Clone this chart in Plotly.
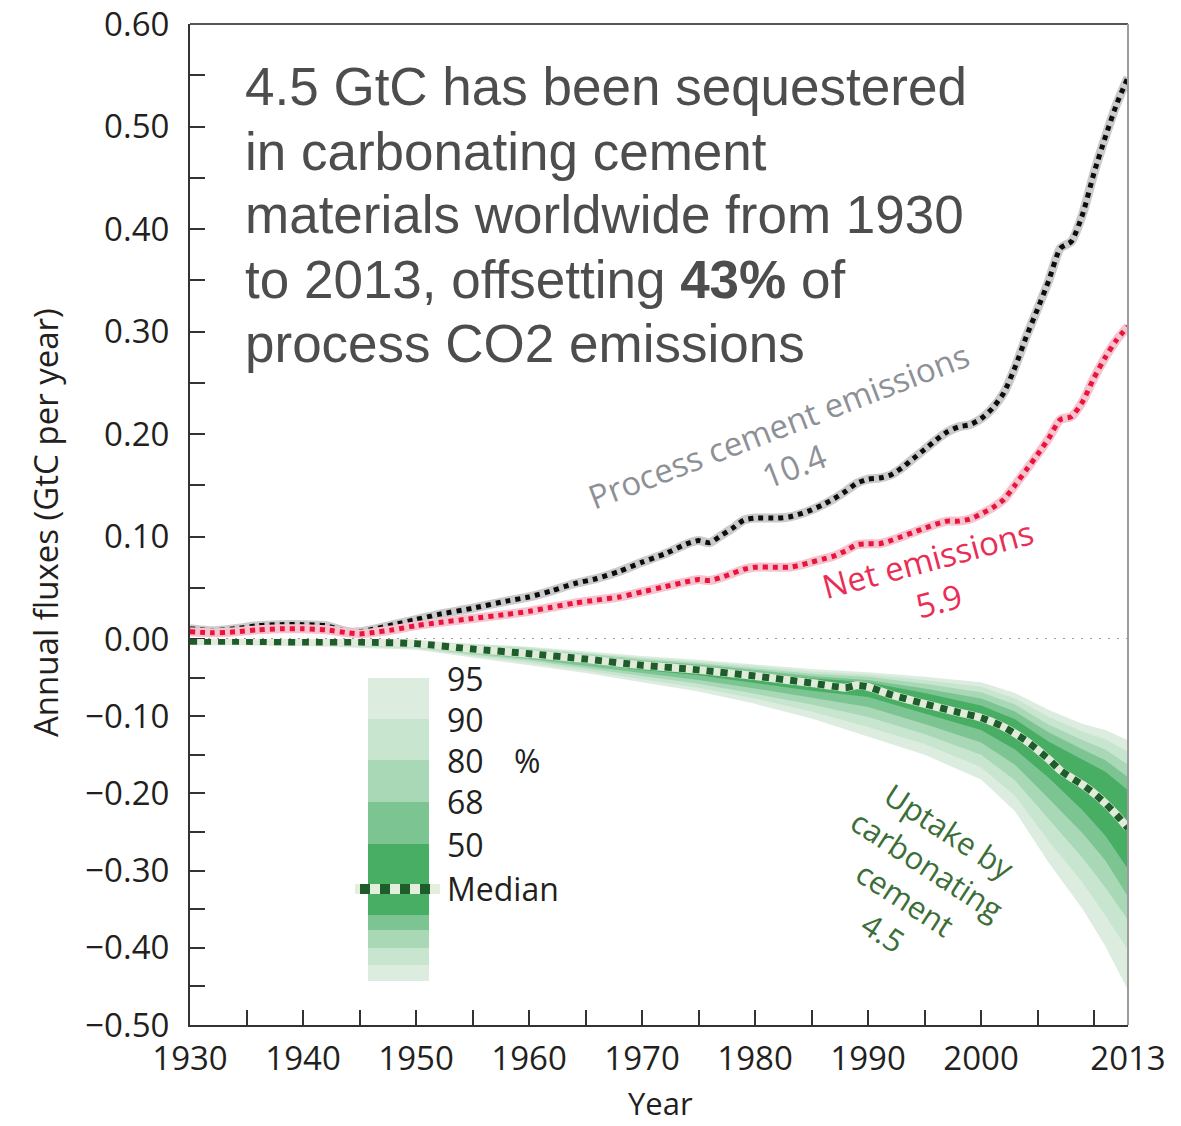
import plotly.graph_objects as go

# ---------------- data (GtC per year) ----------------
proc_years = [1930, 1932, 1934, 1936, 1938, 1940, 1942, 1944, 1945, 1946, 1948, 1950, 1952, 1955,
              1958, 1960, 1962, 1964, 1966, 1968, 1970, 1972, 1974, 1975, 1976, 1977, 1978, 1979,
              1980, 1982, 1983, 1984, 1985, 1986, 1987, 1988, 1989, 1990, 1991, 1992, 1993, 1994,
              1995, 1996, 1997, 1998, 1999, 2000, 2001, 2002, 2003, 2004, 2005, 2006, 2007, 2008,
              2009, 2010, 2011, 2012, 2013]
process_emissions = [0.010, 0.008, 0.010, 0.013, 0.014, 0.014, 0.013, 0.007, 0.007, 0.009, 0.014,
                     0.019, 0.024, 0.030, 0.037, 0.041, 0.047, 0.054, 0.059, 0.066, 0.075, 0.083,
                     0.093, 0.096, 0.094, 0.101, 0.108, 0.116, 0.118, 0.118, 0.119, 0.122, 0.126,
                     0.131, 0.137, 0.144, 0.152, 0.156, 0.157, 0.160, 0.167, 0.176, 0.185, 0.194,
                     0.202, 0.207, 0.209, 0.215, 0.225, 0.240, 0.265, 0.295, 0.322, 0.350, 0.381,
                     0.388, 0.415, 0.455, 0.490, 0.522, 0.548]
net_emissions = [0.007, 0.006, 0.007, 0.009, 0.010, 0.010, 0.009, 0.006, 0.005, 0.006, 0.009,
                 0.013, 0.016, 0.020, 0.024, 0.027, 0.031, 0.035, 0.038, 0.041, 0.046, 0.051,
                 0.056, 0.058, 0.057, 0.060, 0.064, 0.068, 0.070, 0.070, 0.070, 0.072, 0.075,
                 0.078, 0.081, 0.086, 0.092, 0.093, 0.093, 0.096, 0.100, 0.104, 0.108, 0.112,
                 0.115, 0.115, 0.117, 0.122, 0.128, 0.136, 0.150, 0.165, 0.180, 0.196, 0.214,
                 0.217, 0.232, 0.255, 0.275, 0.292, 0.305]

med_years = [1930, 1935, 1940, 1945, 1950, 1955, 1960, 1965, 1970, 1975, 1980, 1985, 1988, 1989,
             1990, 1992, 1995, 1998, 2000, 2002, 2004, 2006, 2007, 2008, 2009, 2010, 2011, 2012, 2013]
uptake_median = [-0.003, -0.003, -0.004, -0.004, -0.006, -0.013, -0.019, -0.026, -0.034, -0.040,
                 -0.048, -0.057, -0.063, -0.060, -0.062, -0.072, -0.084, -0.095, -0.102, -0.114,
                 -0.132, -0.156, -0.170, -0.180, -0.189, -0.200, -0.213, -0.228, -0.245]

band_years = [1930, 1940, 1950, 1955, 1960, 1965, 1970, 1975, 1980, 1985, 1990, 1995, 2000, 2003,
              2006, 2009, 2011, 2013]
upper_95 = [0.000, -0.001, -0.002, -0.006, -0.010, -0.016, -0.022, -0.027, -0.033, -0.039, -0.043,
            -0.049, -0.056, -0.070, -0.092, -0.110, -0.118, -0.131]
upper_90 = [-0.001, -0.001, -0.003, -0.007, -0.011, -0.018, -0.024, -0.029, -0.035, -0.042, -0.046,
            -0.053, -0.062, -0.077, -0.101, -0.120, -0.130, -0.146]
upper_80 = [-0.001, -0.002, -0.003, -0.008, -0.013, -0.019, -0.026, -0.031, -0.038, -0.045, -0.049,
            -0.058, -0.069, -0.085, -0.111, -0.131, -0.143, -0.163]
upper_68 = [-0.001, -0.002, -0.004, -0.009, -0.014, -0.021, -0.028, -0.033, -0.040, -0.048, -0.053,
            -0.064, -0.077, -0.094, -0.121, -0.143, -0.157, -0.179]
upper_50 = [-0.002, -0.003, -0.005, -0.010, -0.016, -0.023, -0.030, -0.035, -0.043, -0.051, -0.056,
            -0.070, -0.086, -0.104, -0.133, -0.156, -0.172, -0.196]
lower_50 = [-0.004, -0.005, -0.008, -0.016, -0.023, -0.031, -0.040, -0.047, -0.057, -0.067, -0.075,
            -0.097, -0.118, -0.143, -0.180, -0.222, -0.255, -0.298]
lower_68 = [-0.005, -0.006, -0.009, -0.018, -0.026, -0.035, -0.044, -0.053, -0.064, -0.076, -0.088,
            -0.110, -0.134, -0.163, -0.207, -0.252, -0.287, -0.334]
lower_80 = [-0.005, -0.007, -0.011, -0.020, -0.028, -0.038, -0.048, -0.058, -0.071, -0.085, -0.101,
            -0.123, -0.150, -0.183, -0.234, -0.284, -0.322, -0.364]
lower_90 = [-0.006, -0.008, -0.012, -0.022, -0.031, -0.041, -0.052, -0.063, -0.077, -0.094, -0.114,
            -0.136, -0.166, -0.203, -0.262, -0.316, -0.358, -0.403]
lower_95 = [-0.007, -0.009, -0.014, -0.024, -0.034, -0.044, -0.056, -0.068, -0.084, -0.103, -0.127,
            -0.150, -0.182, -0.223, -0.290, -0.350, -0.398, -0.455]

band_levels = ["95", "90", "80", "68", "50"]
band_colors = ["#dcede0", "#c7e5cf", "#a9d8b6", "#7cc592", "#48ae63"]
band_uppers = [upper_95, upper_90, upper_80, upper_68, upper_50]
band_lowers = [lower_95, lower_90, lower_80, lower_68, lower_50]

pos_ticks = [0.0, 0.05, 0.10, 0.15, 0.20, 0.25, 0.30, 0.35, 0.40, 0.45, 0.50, 0.55, 0.60]
pos_labels = ["0.00", "", "0.10", "", "0.20", "", "0.30", "", "0.40", "", "0.50", "", "0.60"]
neg_ticks = [-0.50, -0.45, -0.40, -0.35, -0.30, -0.25, -0.20, -0.15, -0.10, -0.05]
neg_labels = ["\u22120.50", "", "\u22120.40", "", "\u22120.30", "", "\u22120.20", "", "\u22120.10", ""]
year_ticks = [1930, 1935, 1940, 1945, 1950, 1955, 1960, 1965, 1970, 1975, 1980, 1985, 1990, 1995,
              2000, 2005, 2010, 2013]
year_labels = ["1930", "", "1940", "", "1950", "", "1960", "", "1970", "", "1980", "", "1990", "",
               "2000", "", "", "2013"]

# ---------------- page geometry ----------------
W, H = 1181, 1126
L, R, T, B = 190, 53, 24, 101
PW, PH = W - L - R, H - T - B


def px(x):
    return (x - L) / PW


def py(y):
    return (H - B - y) / PH


ZERO_PX = 639
TOP_SCALE = (ZERO_PX - T) / 0.6          # px per unit above zero
TOP_MIN = -0.02
top_domain = [py(ZERO_PX - TOP_MIN * TOP_SCALE), 1.0]
bot_domain = [0.0, py(ZERO_PX)]

TICK_FONT = dict(family="Open Sans", size=33, color="#231f20")
AXIS_COLOR = "#333333"

fig = go.Figure()

# uncertainty bands of the carbonation uptake
for lvl, col, up, lo in zip(band_levels, band_colors, band_uppers, band_lowers):
    fig.add_trace(go.Scatter(
        x=band_years + band_years[::-1], y=up + lo[::-1],
        fill="toself", fillcolor=col, mode="lines", line=dict(width=0),
        xaxis="x2", yaxis="y2", name=lvl + "%", showlegend=False, hoverinfo="skip"))

# median uptake: light underlay + dark square dashes
fig.add_trace(go.Scatter(x=med_years, y=uptake_median, mode="lines", xaxis="x2", yaxis="y2",
                         line=dict(color="#e0ebd9", width=8, shape="spline", smoothing=0.6),
                         showlegend=False, hoverinfo="skip"))
fig.add_trace(go.Scatter(x=med_years, y=uptake_median, mode="lines", xaxis="x2", yaxis="y2",
                         line=dict(color="#1f5c2b", width=7, dash="7px,7px", shape="spline",
                                   smoothing=0.6),
                         name="Median", showlegend=False))

# process and net emissions
for vals, halo, dots, nm in [(process_emissions, "#cbcbcb", "#0d0d0d", "Process cement emissions"),
                             (net_emissions, "#f7c3cf", "#e8143c", "Net emissions")]:
    fig.add_trace(go.Scatter(x=proc_years, y=vals, mode="lines", xaxis="x", yaxis="y",
                             line=dict(color=halo, width=9, shape="spline", smoothing=0.6),
                             showlegend=False, hoverinfo="skip"))
    fig.add_trace(go.Scatter(x=proc_years, y=vals, mode="lines", xaxis="x", yaxis="y",
                             line=dict(color=dots, width=5, dash="5px,5px", shape="spline",
                                       smoothing=0.6),
                             name=nm, showlegend=False))

shapes = [
    # grey panel below zero
    dict(type="rect", xref="paper", yref="paper", x0=0, x1=1, y0=0, y1=py(ZERO_PX),
         fillcolor="#f1f1f1", line=dict(width=0), layer="below"),
    # dotted zero line
    dict(type="line", xref="paper", yref="paper", x0=0, x1=1, y0=py(ZERO_PX), y1=py(ZERO_PX),
         line=dict(color="#9a9a9a", width=2, dash="2px,7px"), layer="below"),
    # frame: top and right
    dict(type="line", xref="paper", yref="paper", x0=0, x1=1, y0=1, y1=1,
         line=dict(color="#555555", width=2)),
    dict(type="line", xref="paper", yref="paper", x0=1, x1=1, y0=0, y1=1,
         line=dict(color="#9c9c9c", width=2)),
]

# colour key for the uptake bands
key_x0, key_x1 = 368, 429
key_edges = [678, 719, 760, 802, 844, 915, 930, 948, 965, 981]
key_cols = ["#dcede0", "#c7e5cf", "#a9d8b6", "#7cc592", "#48ae63",
            "#7cc592", "#a9d8b6", "#c7e5cf", "#dcede0"]
for i, col in enumerate(key_cols):
    shapes.append(dict(type="rect", xref="paper", yref="paper",
                       x0=px(key_x0), x1=px(key_x1), y0=py(key_edges[i + 1]), y1=py(key_edges[i]),
                       fillcolor=col, line=dict(width=0)))
shapes.append(dict(type="line", xref="paper", yref="paper", x0=px(355), x1=px(440),
                   y0=py(889), y1=py(889), line=dict(color="#e3eedc", width=10)))
shapes.append(dict(type="line", xref="paper", yref="paper", x0=px(360), x1=px(440),
                   y0=py(889), y1=py(889), line=dict(color="#1f5c2b", width=10, dash="10px,10px")))

annotations = []

# key labels
for lab, yy in zip(["95", "90", "80", "68", "50", "Median"], [678, 719, 760, 801, 844, 889]):
    annotations.append(dict(xref="paper", yref="paper", x=px(445), y=py(yy), text=lab,
                            xanchor="left", yanchor="middle", showarrow=False,
                            font=dict(family="Open Sans", size=32, color="#231f20")))
annotations.append(dict(xref="paper", yref="paper", x=px(512), y=py(760), text="%",
                        xanchor="left", yanchor="middle", showarrow=False,
                        font=dict(family="Open Sans", size=32, color="#231f20")))

# headline statement
headline = ["4.5 GtC has been sequestered", "in carbonating cement",
            "materials worldwide from 1930", "to 2013, offsetting <b>43%</b> of",
            "process CO2 emissions"]
for i, line in enumerate(headline):
    annotations.append(dict(xref="paper", yref="paper", x=px(243), y=py(87 + 64 * i), text=line,
                            xanchor="left", yanchor="middle", showarrow=False,
                            font=dict(family="Liberation Sans", size=53, color="#4d4d4d")))

# curve labels
annotations += [
    dict(xref="paper", yref="paper", x=px(786), y=py(446), text="Process cement emissions<br>10.4",
         textangle=-21, showarrow=False, xanchor="center", yanchor="middle",
         font=dict(family="Open Sans", size=33, color="#8d9096")),
    dict(xref="paper", yref="paper", x=px(933), y=py(580), text="Net emissions<br>5.9",
         textangle=-15, showarrow=False, xanchor="center", yanchor="middle",
         font=dict(family="Open Sans", size=33, color="#ea2d55")),
    dict(xref="paper", yref="paper", x=px(916), y=py(881),
         text="Uptake by<br>carbonating<br>cement<br>4.5",
         textangle=33, showarrow=False, xanchor="center", yanchor="middle",
         font=dict(family="Open Sans", size=31, color="#3b6e38")),
    # axis titles
    dict(xref="paper", yref="paper", x=px(45), y=py(523), text="Annual fluxes (GtC per year)",
         textangle=-90, showarrow=False, xanchor="center", yanchor="middle",
         font=dict(family="Open Sans", size=33, color="#231f20")),
    dict(xref="paper", yref="paper", x=px(660), y=py(1103), text="Year",
         showarrow=False, xanchor="center", yanchor="middle",
         font=dict(family="Open Sans", size=31, color="#231f20")),
]

yaxis_common = dict(showgrid=False, zeroline=False, showline=True, linecolor=AXIS_COLOR,
                    linewidth=2, ticks="inside", ticklen=15, tickwidth=2, tickcolor=AXIS_COLOR,
                    tickfont=TICK_FONT, ticklabelstandoff=12, automargin=False)

fig.update_layout(
    width=W, height=H, autosize=False,
    margin=dict(l=L, r=R, t=T, b=B, pad=0, autoexpand=False),
    paper_bgcolor="white", plot_bgcolor="white",
    showlegend=False,
    xaxis=dict(domain=[0, 1], anchor="y", range=[1930, 2013], matches="x2", visible=False,
               automargin=False),
    xaxis2=dict(domain=[0, 1], anchor="y2", range=[1930, 2013], showgrid=False, zeroline=False,
                showline=True, linecolor=AXIS_COLOR, linewidth=2, ticks="inside", ticklen=15,
                tickwidth=2, tickcolor=AXIS_COLOR, tickvals=year_ticks, ticktext=year_labels,
                tickfont=TICK_FONT, ticklabelstandoff=3, automargin=False),
    yaxis=dict(domain=top_domain, anchor="x", range=[TOP_MIN, 0.6], tickvals=pos_ticks,
               ticktext=pos_labels, **yaxis_common),
    yaxis2=dict(domain=bot_domain, anchor="x2", range=[-0.5, 0], tickvals=neg_ticks,
                ticktext=neg_labels, **yaxis_common),
    shapes=shapes,
    annotations=annotations,
)

fig.write_html("out.html")
